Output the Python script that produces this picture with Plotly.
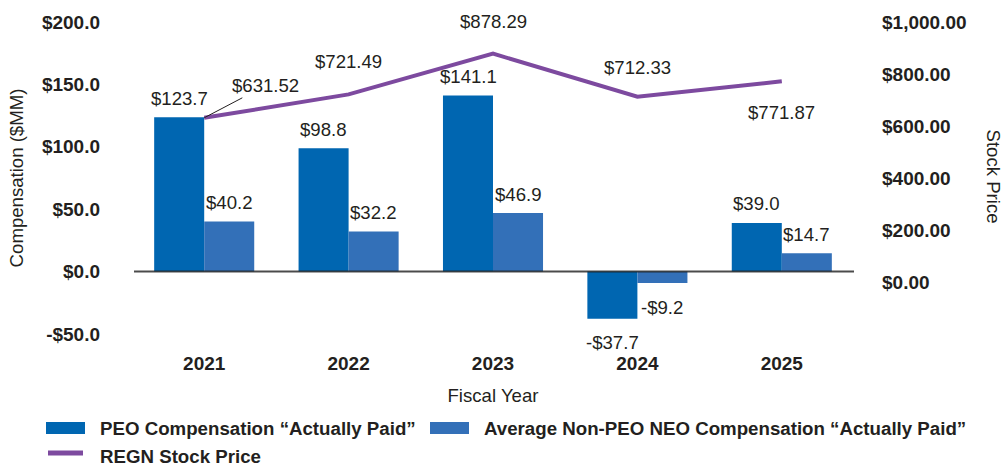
import plotly.graph_objects as go

# ---- data ----
years = ["2021", "2022", "2023", "2024", "2025"]
peo_cap = [123.7, 98.8, 141.1, -37.7, 39.0]
neo_cap = [40.2, 32.2, 46.9, -9.2, 14.7]
stock_price = [631.52, 721.49, 878.29, 712.33, 771.87]
left_ticks = [-50, 0, 50, 100, 150, 200]
right_ticks = [0, 200, 400, 600, 800, 1000]
series_names = [
    "PEO Compensation \u201cActually Paid\u201d",
    "Average Non-PEO NEO Compensation \u201cActually Paid\u201d",
    "REGN Stock Price",
]

# ---- style ----
FONT = "Liberation Sans, Arial, Helvetica, sans-serif"
TXT = "#231F20"
C_PEO = "#0066B1"
C_NEO = "#3370B8"
C_LINE = "#7D4A9F"
# pixel offsets for stock-price labels (dx, dy) - dy positive = up
stock_label_offsets = [(61, 32), (0, 33), (0, 32), (0, 29), (0, -31)]

# plot area in pixels
PL, PR, PT, PB = 132, 854, 22, 334


def px_x(p):
    return (p - PL) / (PR - PL)


def px_y(p):
    return (PB - p) / (PB - PT)


def money1(v):
    return f"-${abs(v):.1f}" if v < 0 else f"${v:.1f}"


def money2(v):
    return f"-${abs(v):,.2f}" if v < 0 else f"${v:,.2f}"


fig = go.Figure()
fig.add_trace(go.Bar(
    x=years, y=peo_cap, name=series_names[0], showlegend=False,
    marker=dict(color=C_PEO, line=dict(width=0)), yaxis="y",
))
fig.add_trace(go.Bar(
    x=years, y=neo_cap, name=series_names[1], showlegend=False,
    marker=dict(color=C_NEO, line=dict(width=0)), yaxis="y",
))
fig.add_trace(go.Scatter(
    x=years, y=stock_price, name=series_names[2], mode="lines", showlegend=False,
    line=dict(color=C_LINE, width=4), yaxis="y2",
))

lab_font = dict(family=FONT, size=18.6, color=TXT)
bold_font = dict(family=FONT, size=19, color=TXT, weight="bold")
legend_font = dict(family=FONT, size=18.7, color=TXT, weight="bold")

annotations = []
# bar value labels
for series, shift in ((peo_cap, -25), (neo_cap, 25)):
    for i, v in enumerate(series):
        annotations.append(dict(
            x=i, y=v, xref="x", yref="y", text=money1(v), showarrow=False,
            xshift=shift, yshift=19 if v >= 0 else -24, font=lab_font,
        ))
# stock price labels
for i, v in enumerate(stock_price):
    dx, dy = stock_label_offsets[i]
    if dx != 0:
        annotations.append(dict(
            x=i, y=v, xref="x", yref="y2", text=money2(v), showarrow=True,
            ax=dx, ay=-dy, arrowhead=0, arrowwidth=1, arrowcolor=TXT,
            standoff=0, font=lab_font,
        ))
    else:
        annotations.append(dict(
            x=i, y=v, xref="x", yref="y2", text=money2(v), showarrow=False,
            yshift=dy, font=lab_font,
        ))
# right axis title
annotations.append(dict(
    x=px_x(994), y=px_y(176), xref="paper", yref="paper", text="Stock Price",
    textangle=90, showarrow=False, xshift=12, font=lab_font,
))

# custom legend (symbols as shapes, labels as text)
shapes = [dict(
    type="line", xref="paper", yref="y", x0=px_x(134), x1=1.0, y0=0, y1=0,
    line=dict(color="rgba(30,30,30,0.8)", width=2), layer="above",
)]
legend_rows = [
    ("rect", C_PEO, 46, 428, series_names[0]),
    ("rect", C_NEO, 430, 428, series_names[1]),
    ("line", C_LINE, 46, 456, series_names[2]),
]
for kind, col, x0, yc, name in legend_rows:
    if kind == "rect":
        shapes.append(dict(
            type="rect", xref="paper", yref="paper",
            x0=px_x(x0), x1=px_x(x0 + 39), y0=px_y(yc + 6), y1=px_y(yc - 6),
            fillcolor=col, line=dict(width=0),
        ))
    else:
        shapes.append(dict(
            type="line", xref="paper", yref="paper",
            x0=px_x(x0 + 2), x1=px_x(x0 + 37), y0=px_y(yc - 3), y1=px_y(yc - 3),
            line=dict(color=col, width=5),
        ))
    annotations.append(dict(
        x=px_x(x0 + 52), y=px_y(yc), xref="paper", yref="paper", text=name,
        xanchor="left", yanchor="middle", showarrow=False, font=legend_font,
    ))

fig.update_layout(
    width=1003, height=463,
    margin=dict(l=PL, r=1003 - PR, t=PT, b=463 - PB, pad=0),
    paper_bgcolor="white", plot_bgcolor="white",
    font=dict(family=FONT, size=18.6, color=TXT),
    barmode="group", bargap=0.307, bargroupgap=0,
    showlegend=False,
    xaxis=dict(
        type="category", range=[-0.5, 4.5], showgrid=False, showline=False,
        zeroline=False, ticks="", tickfont=bold_font, ticklabelstandoff=16,
        title=dict(text="Fiscal Year", font=lab_font, standoff=15),
    ),
    yaxis=dict(
        range=[-50, 200], tickvals=left_ticks, ticktext=[money1(v) for v in left_ticks],
        showgrid=False, zeroline=False, showline=False, ticks="",
        tickfont=bold_font, ticklabelstandoff=31,
        title=dict(text="Compensation ($MM)", font=lab_font, standoff=13),
    ),
    yaxis2=dict(
        overlaying="y", side="right", range=[-200, 1000],
        tickvals=right_ticks, ticktext=[money2(v) for v in right_ticks],
        showgrid=False, zeroline=False, showline=False, ticks="",
        tickfont=bold_font, ticklabelstandoff=27,
    ),
    shapes=shapes,
    annotations=annotations,
)

fig.write_html("out.html")
